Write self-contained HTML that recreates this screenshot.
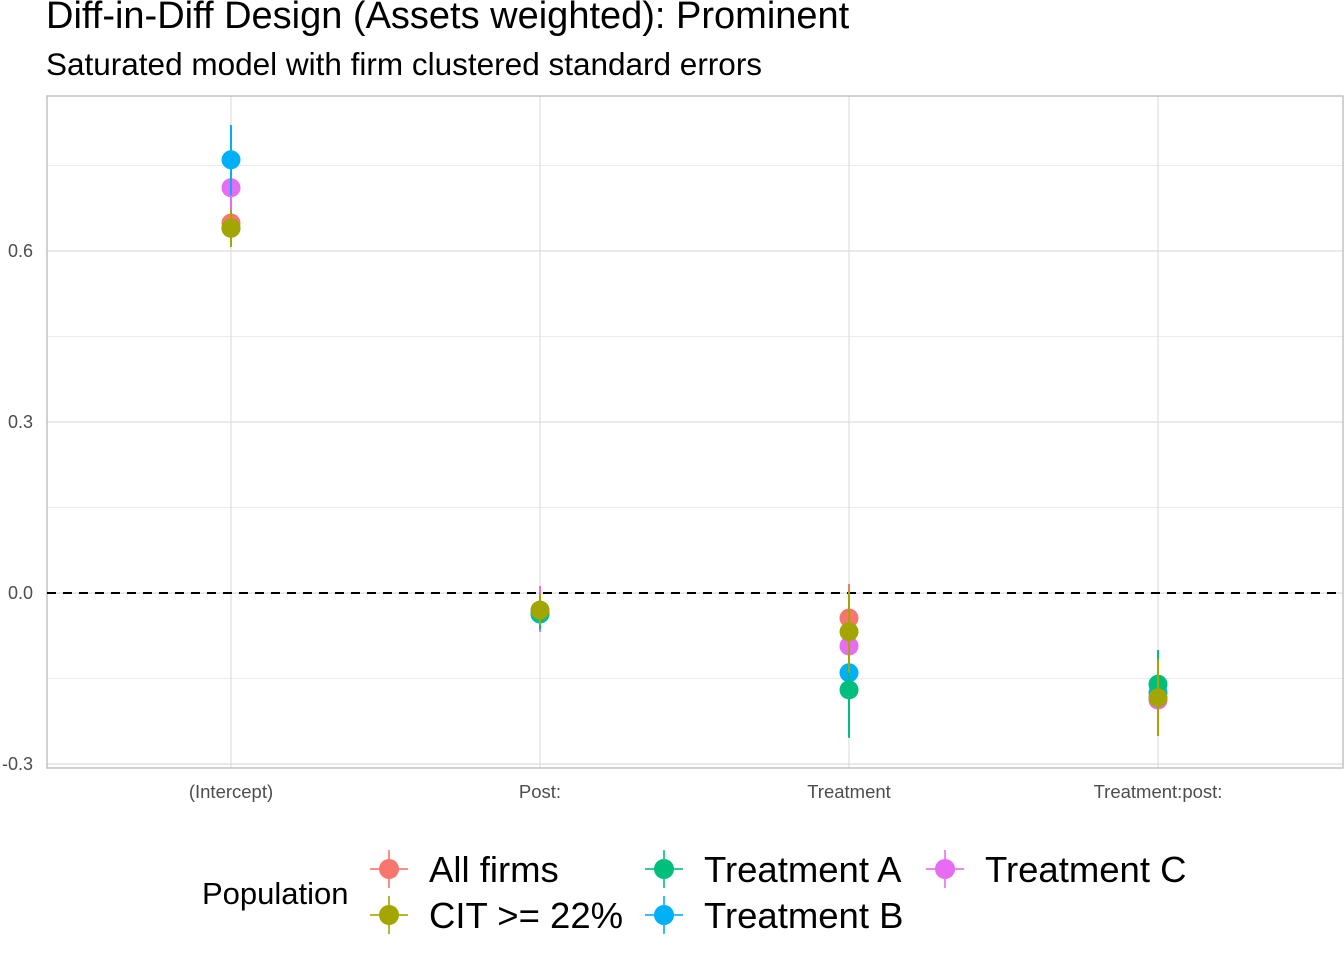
<!DOCTYPE html>
<html><head><meta charset="utf-8"><style>
body{margin:0;background:#fff;font-family:"Liberation Sans",sans-serif;}
</style></head><body>
<svg id="chart" width="1344" height="960" xmlns="http://www.w3.org/2000/svg" font-family="Liberation Sans, sans-serif">
<text x="46" y="28" font-size="38" fill="#000">Diff-in-Diff Design (Assets weighted): Prominent</text>
<text x="46" y="75" font-size="31.5" fill="#000">Saturated model with firm clustered standard errors</text>
<g id="grid"></g>
<g id="marks"></g>
<g id="legend"></g>
</svg>
<script>
const categories=["(Intercept)","Post:","Treatment","Treatment:post:"];
const seriesNames=["All firms","CIT >= 22%","Treatment A","Treatment B","Treatment C"];
const colors=["#F8766D","#A3A500","#00BF7D","#00B0F6","#E76BF3"];
const estAll=[0.649,-0.032,-0.044,-0.185];
const loAll=[0.615,-0.06,-0.105,-0.24];
const hiAll=[0.685,-0.005,0.016,-0.13];
const estCIT=[0.640,-0.030,-0.068,-0.184];
const loCIT=[0.607,-0.056,-0.140,-0.251];
const hiCIT=[0.672,-0.001,0.004,-0.116];
const estA=[0.640,-0.035,-0.170,-0.160];
const loA=[0.610,-0.062,-0.254,-0.22];
const hiA=[0.672,-0.008,-0.09,-0.100];
const estB=[0.760,-0.037,-0.140,-0.175];
const loB=[0.698,-0.064,-0.225,-0.235];
const hiB=[0.821,-0.010,-0.06,-0.115];
const estC=[0.711,-0.033,-0.093,-0.188];
const loC=[0.660,-0.068,-0.165,-0.245];
const hiC=[0.760,0.012,-0.02,-0.13];
const yTicks=[-0.3,0.0,0.3,0.6];
const yTickLabels=["-0.3","0.0","0.3","0.6"];
const yMinor=[-0.15,0.15,0.45,0.75];
const ns="http://www.w3.org/2000/svg";
const L=47,R=1343,T=96,B=768;
const y=v=>593-v*570;
const x=i=>231+i*309;
function mk(tag,attrs,parent){const e=document.createElementNS(ns,tag);for(const k in attrs)e.setAttribute(k,attrs[k]);parent.appendChild(e);return e;}
const grid=document.getElementById('grid');
yMinor.forEach(v=>{const l=mk('line',{x1:L,x2:R,y1:y(v),y2:y(v),stroke:'#ebebeb','stroke-width':1},grid);

});
yTicks.forEach((v,i)=>{const l=mk('line',{x1:L,x2:R,y1:y(v),y2:y(v),stroke:'#dedede','stroke-width':1.2},grid);


const t=mk('text',{x:33,y:y(v)+6,'font-size':18,'text-anchor':'end',fill:'#4d4d4d'},grid);t.textContent=yTickLabels[i];

});
categories.forEach((c,i)=>{const l=mk('line',{x1:x(i),x2:x(i),y1:T,y2:B,stroke:'#dedede','stroke-width':1.2},grid);


const t=mk('text',{x:x(i),y:798,'font-size':18.5,'text-anchor':'middle',fill:'#4d4d4d'},grid);t.textContent=c;

});
const frame=mk('rect',{x:L,y:T,width:R-L,height:B-T,fill:'none',stroke:'#b3b3b3','stroke-width':1.2},grid);


const zl=mk('line',{x1:L,x2:R,y1:y(0),y2:y(0),stroke:'#000','stroke-width':2,'stroke-dasharray':'9,7'},grid);


const marks=document.getElementById('marks');
const data=[[estAll,loAll,hiAll],[estCIT,loCIT,hiCIT],[estA,loA,hiA],[estB,loB,hiB],[estC,loC,hiC]];
const order=[0,4,3,2,1];
order.forEach(s=>{const [e,lo,hi]=data[s];
categories.forEach((c,i)=>{
const l=mk('line',{x1:x(i),x2:x(i),y1:y(lo[i]),y2:y(hi[i]),stroke:colors[s],'stroke-width':2},marks);


const p=mk('circle',{cx:x(i),cy:y(e[i]),r:9.5,fill:colors[s]},marks);

});});
const lg=document.getElementById('legend');
const lt=mk('text',{x:202,y:904,'font-size':31,fill:'#000'},lg);lt.textContent="Population";


const pos=[[389,869],[389,915],[664,869],[664,915],[945,869]];
seriesNames.forEach((n,s)=>{const [cx,cy]=pos[s];
const g=mk('g',{},lg);


mk('line',{x1:cx-19,x2:cx+19,y1:cy,y2:cy,stroke:colors[s],'stroke-width':2,'stroke-opacity':0.8},g);
mk('line',{x1:cx,x2:cx,y1:cy-19,y2:cy+19,stroke:colors[s],'stroke-width':2,'stroke-opacity':0.8},g);
mk('circle',{cx:cx,cy:cy,r:10,fill:colors[s]},g);
const t=mk('text',{x:cx+40,y:cy+13,'font-size':36.5,fill:'#000'},g);t.textContent=n;});
</script>
</body></html>
